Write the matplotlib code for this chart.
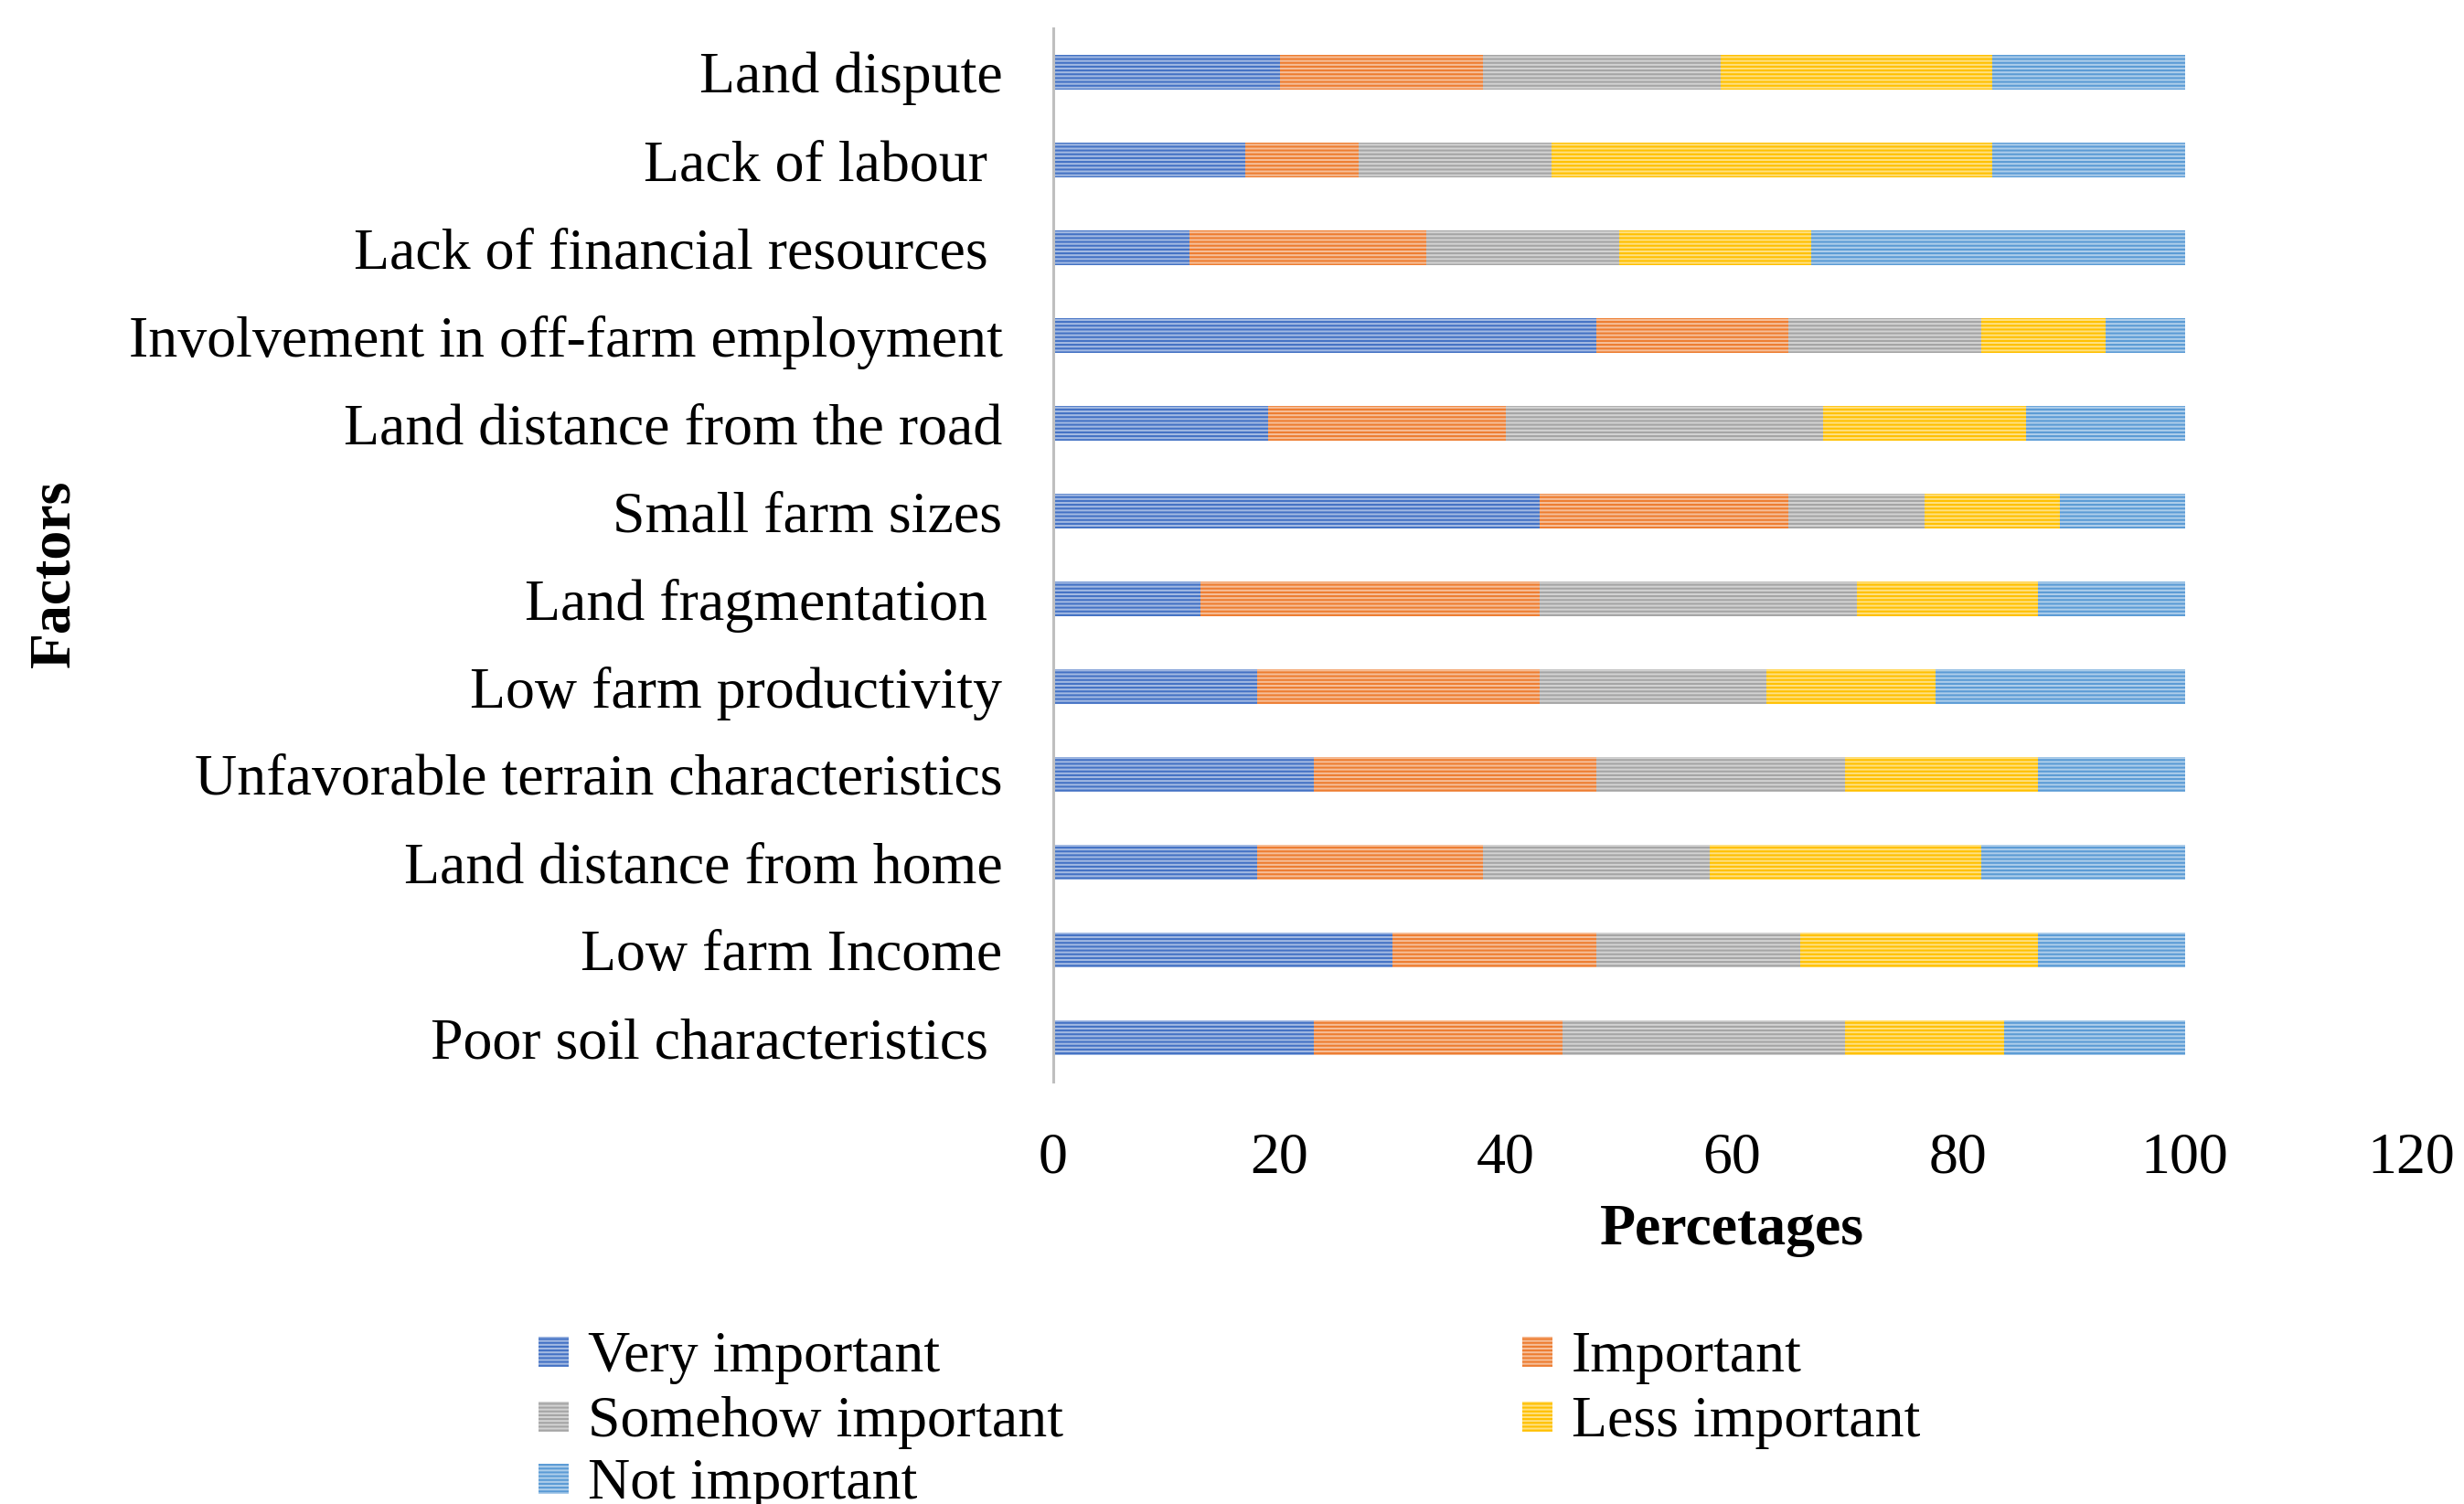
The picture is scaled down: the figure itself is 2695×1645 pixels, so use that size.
import matplotlib
matplotlib.use("Agg")
import matplotlib.pyplot as plt
from matplotlib.patches import Rectangle
import numpy as np

# ---- data (bottom to top as drawn) ----
factors = [
    "Poor soil characteristics ",
    "Low farm Income",
    "Land distance from home",
    "Unfavorable terrain characteristics",
    "Low farm productivity",
    "Land fragmentation ",
    "Small farm sizes",
    "Land distance from the road",
    "Involvement in off-farm employment",
    "Lack of financial resources ",
    "Lack of labour ",
    "Land dispute",
]
series_names = ["Very important", "Important", "Somehow important",
                "Less important", "Not important"]
very_important     = [23, 30, 18, 23, 18, 13, 43, 19, 48, 12, 17, 20]
important          = [22, 18, 20, 25, 25, 30, 22, 21, 17, 21, 10, 18]
somehow_important  = [25, 18, 20, 22, 20, 28, 12, 28, 17, 17, 17, 21]
less_important     = [14, 21, 24, 17, 15, 16, 12, 18, 11, 17, 39, 24]
not_important      = [16, 13, 18, 13, 22, 13, 11, 14,  7, 33, 17, 17]
xticks = [0, 20, 40, 60, 80, 100, 120]

colors = ["#4472C4", "#ED7D31", "#A5A5A5", "#FFC000", "#5B9BD5"]

def tint(c, f=0.5):
    r, g, b = matplotlib.colors.to_rgb(c)
    return (r + (1 - r) * f, g + (1 - g) * f, b + (1 - b) * f)

plt.rcParams["font.family"] = ["Liberation Serif", "DejaVu Serif"]
plt.rcParams["hatch.linewidth"] = 1.5

W, H = 2695, 1645
fig = plt.figure(figsize=(W / 100, H / 100), dpi=100)
ax = fig.add_axes([1152 / W, 1 - 1183 / H, (2637 - 1152) / W, (1183 - 31) / H])

values = [very_important, important, somehow_important, less_important, not_important]
y = np.arange(len(factors))
left = np.zeros(len(factors))
for name, vals, c in zip(series_names, values, colors):
    ax.barh(y, vals, left=left, height=0.4, color=tint(c, 0.5), edgecolor=c,
            linewidth=0, hatch="----", label=name)
    left += np.array(vals)

ax.set_xlim(0, 120)
ax.set_ylim(-0.5, len(factors) - 0.5)
ax.set_xticks(xticks)
ax.set_yticks(y)
ax.set_yticklabels(factors, fontsize=46)
ax.tick_params(axis="x", length=0, pad=40, labelsize=46)
ax.tick_params(axis="y", length=0, pad=40)
for s in ["top", "right", "bottom"]:
    ax.spines[s].set_visible(False)
ax.spines["left"].set_color("#BFBFBF")
ax.spines["left"].set_linewidth(2.2)

fig.text(1894 / W, 1 - 1346 / H, "Percetages", ha="center", va="center",
         fontsize=46, fontweight="bold")
fig.text(60 / W, 1 - 627 / H, "Factors", ha="center", va="center",
         rotation=90, fontsize=46, fontweight="bold")

# ---- legend (manual, two columns) ----
pos = [(605, 1478), (1681, 1478), (605, 1549), (1681, 1549), (605, 1617)]
sq = 33
for (px, py), name, c in zip(pos, series_names, colors):
    r = Rectangle(((px - sq / 2) / W, 1 - (py + sq / 2) / H), sq / W, sq / H,
                  transform=fig.transFigure, facecolor=tint(c, 0.5),
                  edgecolor=c, linewidth=0, hatch="----")
    fig.add_artist(r)
    fig.text((px + 38) / W, 1 - py / H, name, ha="left", va="center_baseline",
             fontsize=46)

fig.savefig("out.png", dpi=100)
